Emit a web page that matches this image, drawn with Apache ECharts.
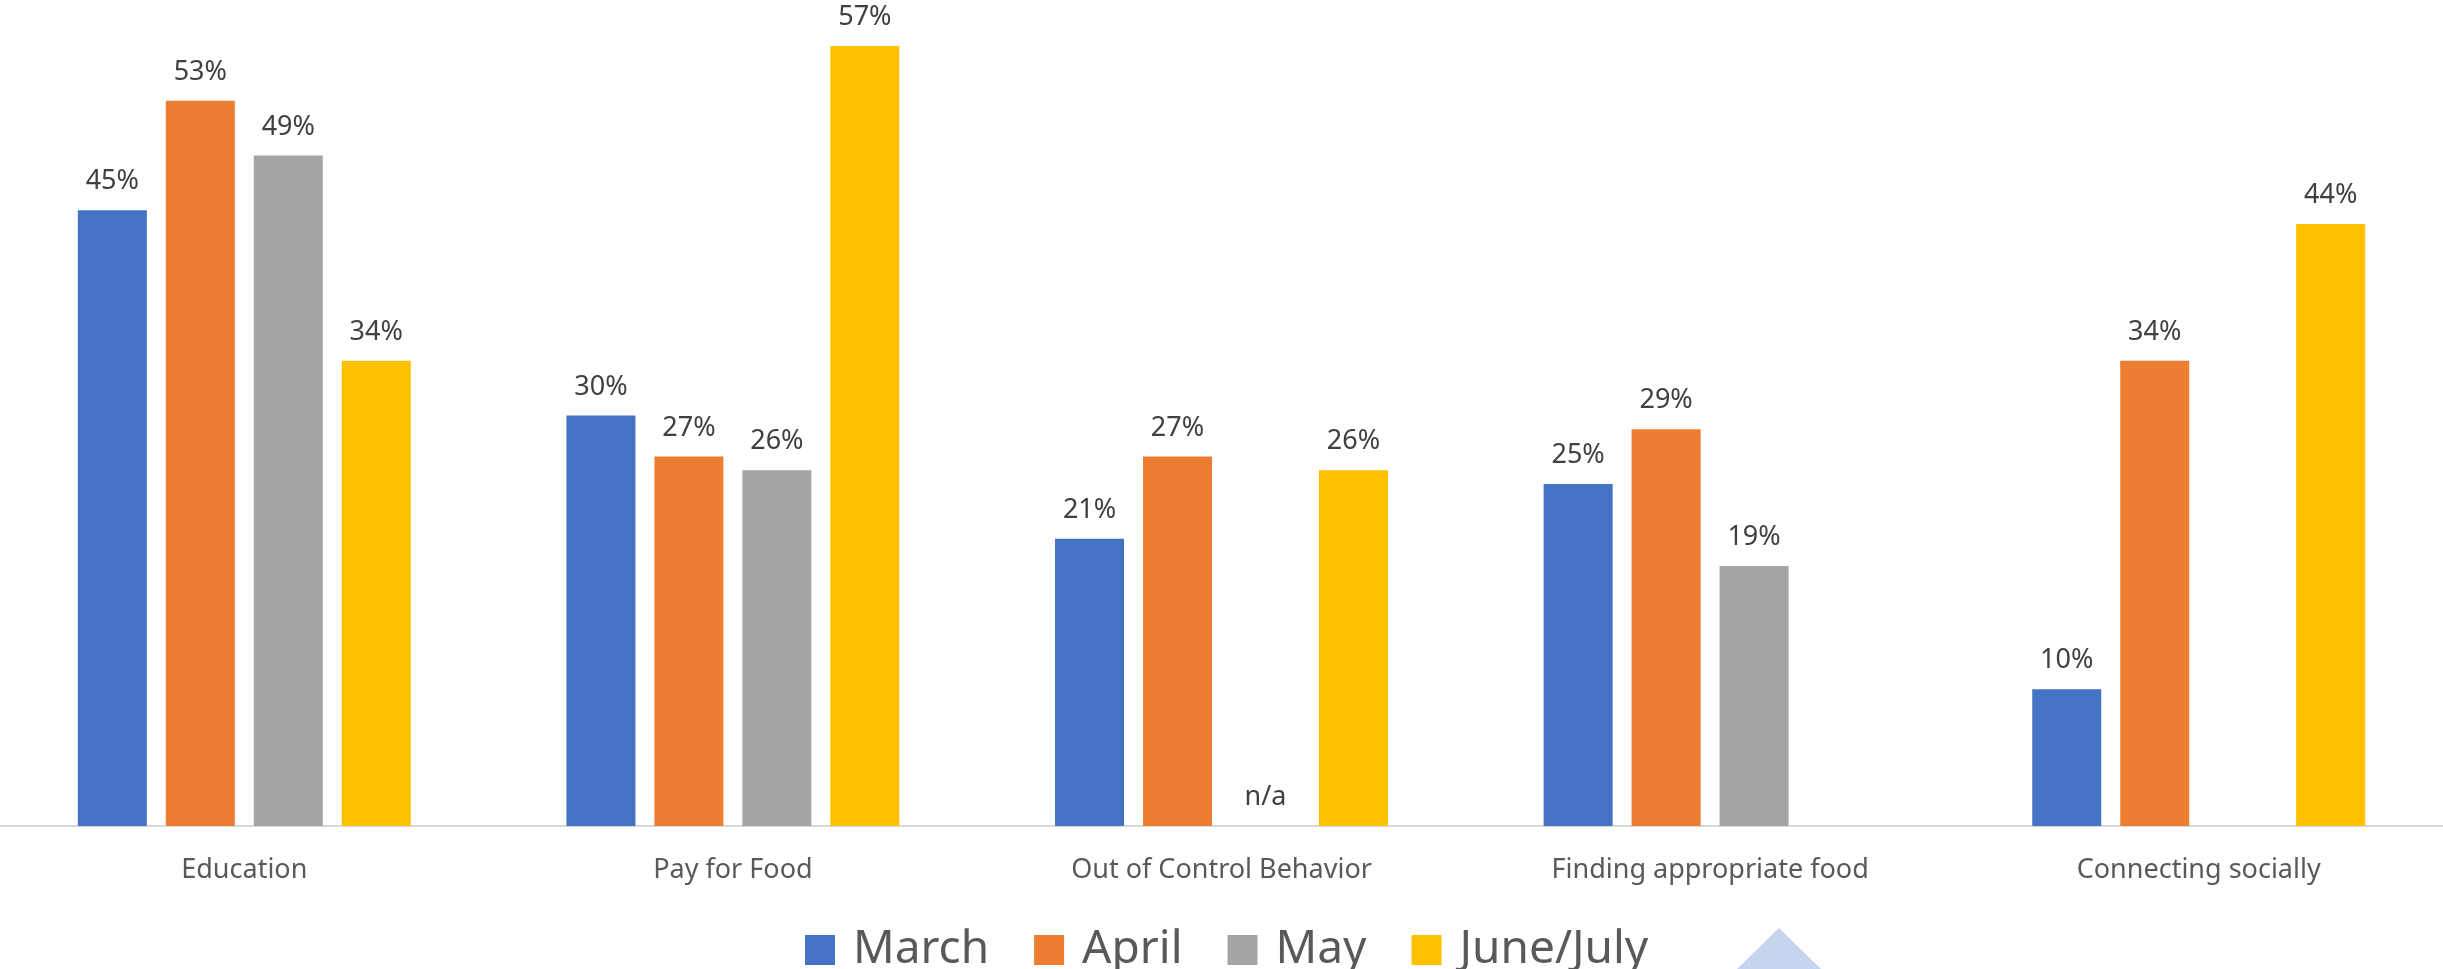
<!DOCTYPE html>
<html>
<head>
<meta charset="utf-8">
<style>
  html, body { margin: 0; padding: 0; background: #fff; }
  #chart { width: 2443px; height: 969px; }
</style>
<script src="https://cdn.jsdelivr.net/npm/echarts@6/dist/echarts.min.js"></script>
</head>
<body>
<div id="chart"></div>
<script>
  const categories = ['Education', 'Pay for Food', 'Out of Control Behavior', 'Finding appropriate food', 'Connecting socially'];
  const seriesNames = ['March', 'April', 'May', 'June/July'];
  // null = no bar and no label, 'n/a' = no bar, label "n/a"
  const march = [45, 30, 21, 25, 10];
  const april = [53, 27, 27, 29, 34];
  const may = [49, 26, 'n/a', 19, null];
  const juneJuly = [34, 57, 26, null, 44];
  const colors = ['#4472c4', '#ed7d31', '#a5a5a5', '#ffc000'];

  const font = '"Noto Sans", "Open Sans", sans-serif';

  function toSeriesData(values) {
    return values.map((v) => {
      if (v === 'n/a') {
        return { value: 0, label: { formatter: 'n/a' } };
      }
      return v === null ? '-' : v;
    });
  }

  const chart = echarts.init(document.getElementById('chart'), null, { renderer: 'canvas' });

  chart.setOption({
    animation: false,
    backgroundColor: '#ffffff',
    color: colors,
    grid: { left: 0, right: 0, top: 5, bottom: 143 },
    legend: {
      left: 805,
      top: 927,
      padding: 0,
      itemWidth: 30,
      itemHeight: 30,
      itemGap: 45,
      icon: 'rect',
      textStyle: {
        fontFamily: font,
        fontSize: 46,
        color: '#595959',
        padding: [0, 0, 8, 13],
      },
      data: seriesNames,
    },
    xAxis: {
      type: 'category',
      data: categories,
      axisTick: { show: false },
      axisLine: { lineStyle: { color: '#d9d9d9', width: 2 } },
      axisLabel: {
        fontFamily: font,
        fontSize: 27,
        color: '#595959',
        margin: 31,
      },
    },
    yAxis: {
      type: 'value',
      min: 0,
      max: 60,
      show: false,
      splitLine: { show: false },
    },
    series: [march, april, may, juneJuly].map((values, i) => ({
      name: seriesNames[i],
      type: 'bar',
      barWidth: 69,
      barGap: '27.5%',
      data: toSeriesData(values),
      label: {
        show: true,
        position: 'top',
        distance: 15,
        fontFamily: font,
        fontSize: 27,
        color: '#404040',
        formatter: '{c}%',
      },
    })),
    graphic: [
      {
        type: 'polygon',
        shape: { points: [[1737, 969], [1779, 928], [1821, 969]] },
        style: { fill: '#c6d4ed' },
      },
    ],
  });
</script>
</body>
</html>
